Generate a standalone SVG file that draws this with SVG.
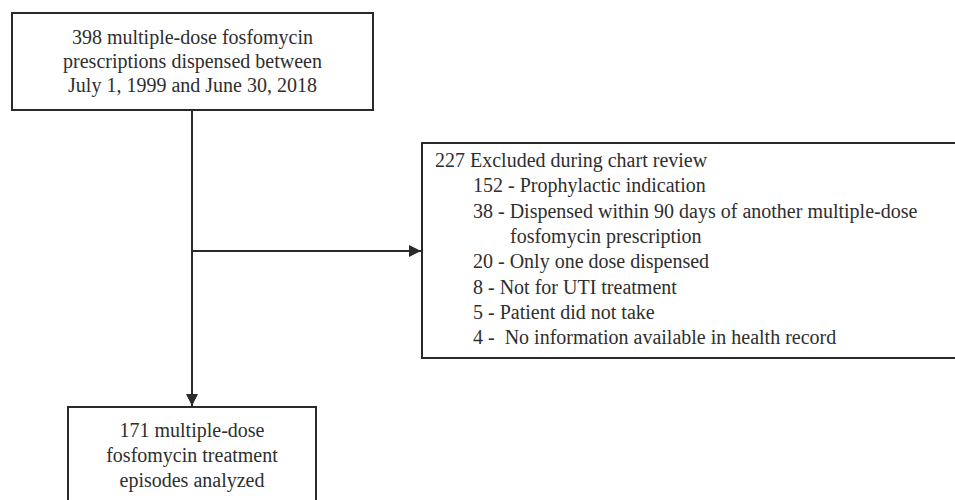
<svg xmlns="http://www.w3.org/2000/svg" width="955" height="500" viewBox="0 0 955 500">
<defs>
<style>
.box{fill:#fff;stroke:#2a2a2a;stroke-width:2}
.t{font-size:20px;fill:#2e2e2e}
.c{text-anchor:middle}
.ln{stroke:#2a2a2a;stroke-width:2;fill:none}
</style>
<marker id="ah" viewBox="0 0 10 10" refX="10" refY="5" markerWidth="6" markerHeight="6" markerUnits="strokeWidth" orient="auto">
<path d="M0,0 L10,5 L0,10 Z" fill="#2a2a2a"/>
</marker>
</defs>
<rect width="955" height="500" fill="#fff"/>
<g id="connectors">
<line class="ln" x1="192" y1="110" x2="192" y2="406" marker-end="url(#ah)"/>
<line class="ln" x1="192" y1="251" x2="421" y2="251" marker-end="url(#ah)"/>
</g>
<g font-family="'Liberation Serif', 'DejaVu Serif', serif">
<g id="n1">
<rect class="box" x="12" y="13" width="361" height="97"/>
<text class="t c" x="192.5" y="44">398 multiple-dose fosfomycin</text>
<text class="t c" x="192.5" y="68">prescriptions dispensed between</text>
<text class="t c" x="192.5" y="92">July 1, 1999 and June 30, 2018</text>
</g>
<g id="n2">
<rect class="box" x="422" y="143" width="560" height="215"/>
<text class="t" x="435" y="167">227 Excluded during chart review</text>
<text class="t" x="473" y="192.3">152 - Prophylactic indication</text>
<text class="t" x="473" y="217.6">38 - Dispensed within 90 days of another multiple-dose</text>
<text class="t" x="510" y="242.9">fosfomycin prescription</text>
<text class="t" x="473" y="268.2">20 - Only one dose dispensed</text>
<text class="t" x="473" y="293.5">8 - Not for UTI treatment</text>
<text class="t" x="473" y="318.8">5 - Patient did not take</text>
<text class="t" x="473" y="344.1" xml:space="preserve">4 -  No information available in health record</text>
</g>
<g id="n3">
<rect class="box" x="68" y="407" width="248" height="110"/>
<text class="t c" x="192" y="436.5">171 multiple-dose</text>
<text class="t c" x="192" y="461.5">fosfomycin treatment</text>
<text class="t c" x="192" y="486.5">episodes analyzed</text>
</g>
</g>
</svg>
